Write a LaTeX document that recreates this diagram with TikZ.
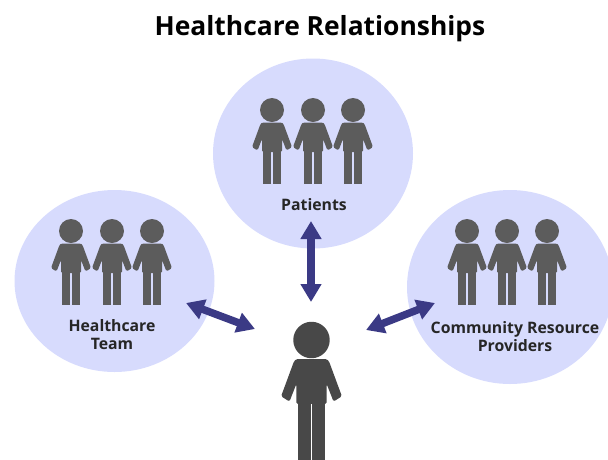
\documentclass[tikz,border=0pt]{standalone}
\usepackage{fontspec}
\setmainfont{Open Sans}
\usetikzlibrary{shapes.geometric,arrows.meta}
\definecolor{blob}{HTML}{D7DBFD}
\definecolor{arrowblue}{HTML}{3B3A85}
\definecolor{figgrey}{HTML}{5C5C5C}
\definecolor{figdark}{HTML}{484848}
\tikzset{
  blobnode/.style={ellipse,fill=blob,draw=none,inner sep=0pt,outer sep=0pt},
  label text/.style={font=\fontsize{15.8}{18}\selectfont\bfseries,text=black!85,align=center,inner sep=0pt},
  link/.style={draw=arrowblue,line width=7.5pt,{Triangle[length=18pt,width=20pt]}-{Triangle[length=18pt,width=20pt]}},
  pics/person/.style 2 args={code={
    \fill[#1] (0,0) circle[radius=12pt];
    \fill[#1,rounded corners=1.5pt] (-10pt,-12.5pt) -- (10pt,-12.5pt) -- (11.5pt,-14pt) -- (20pt,-37pt) -- (14.5pt,-40.5pt) -- (10pt,-29pt) -- (10pt,-42pt) -- (-10pt,-42pt) -- (-10pt,-29pt) -- (-14.5pt,-40.5pt) -- (-20pt,-37pt) -- (-11.5pt,-14pt) -- cycle;
    \fill[#1] (-9pt,-40pt) rectangle (-0.6pt,-#2pt);
    \fill[#1] (0.6pt,-40pt) rectangle (9pt,-#2pt);
  }}
}
\begin{document}
\begin{tikzpicture}[x=1pt,y=-1pt]
\useasboundingbox (0,0) rectangle (608,459);
\clip (0,0) rectangle (608,459);
\node[blobnode,minimum width=200pt,minimum height=190pt] (top) at (313,153.5) {};
\node[blobnode,minimum width=200pt,minimum height=182pt] (left) at (114.5,281) {};
\node[blobnode,minimum width=206pt,minimum height=194pt] (right) at (510,287) {};
\node[font=\fontsize{26.4}{30}\selectfont\bfseries,inner sep=0pt] (title) at (320,28.5) {Healthcare Relationships};
\foreach \x in {272,313,353} \pic at (\x,110) {person={figgrey}{74}};
\foreach \x in {71,112,152} \pic at (\x,231) {person={figgrey}{74}};
\foreach \x in {467,507,547} \pic at (\x,231) {person={figgrey}{74}};
\pic[scale=1.52] at (311.5,340) {person={figdark}{80}};
\node[label text] (lblpatients) at (314,205) {Patients};
\node[label text] (lblteam) at (112,335) {Healthcare\\Team};
\node[label text] (lblcomm) at (515,337) {Community Resource\\Providers};
\coordinate (a1) at (311,221);
\coordinate (a2) at (311,302);
\coordinate (b1) at (186,303);
\coordinate (b2) at (255,329);
\coordinate (c1) at (435,303);
\coordinate (c2) at (366,330);
\draw[link] (a1) -- (a2);
\draw[link] (b1) -- (b2);
\draw[link] (c1) -- (c2);
\end{tikzpicture}
\end{document}
